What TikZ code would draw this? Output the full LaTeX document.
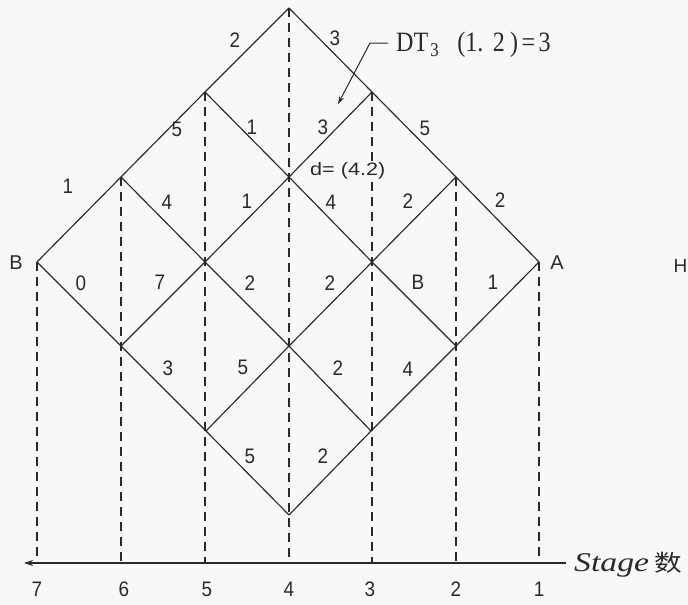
\documentclass[tikz,border=0pt]{standalone}
\usepackage{fontspec}
\setmainfont{Liberation Serif}
\newfontfamily\numfont{Liberation Sans}
\newfontfamily\cjkfont{Noto Sans CJK SC}
\usetikzlibrary{arrows.meta}
\definecolor{ink}{RGB}{42,42,42}
\definecolor{paper}{RGB}{248,248,250}
\newcommand{\wlab}[1]{\scalebox{0.9}[1]{\fontsize{21}{24}\selectfont\numfont #1}}
\tikzset{
  edge/.style={draw=ink, line width=1.15pt},
  guide/.style={draw=ink, line width=1.15pt, dash pattern=on 9pt off 6pt},
  wt/.style={inner sep=0pt, text=ink, font=\numfont},
}
\begin{document}
\begin{tikzpicture}[x=1pt,y=-1pt]
\fill[paper] (0,0) rectangle (688,605);
\useasboundingbox (0,0) rectangle (688,605);
% grid nodes: stage s, level l
\coordinate (s4l0) at (289,8);
\coordinate (s5l1) at (205,92);
\coordinate (s3l1) at (372,92);
\coordinate (s6l2) at (121,177);
\coordinate (s4l2) at (289,177);
\coordinate (s2l2) at (456,177);
\coordinate (s7l3) at (37,262);
\coordinate (s5l3) at (205,262);
\coordinate (s3l3) at (372,262);
\coordinate (s1l3) at (539,262);
\coordinate (s6l4) at (121,346);
\coordinate (s4l4) at (289,346);
\coordinate (s2l4) at (456,346);
\coordinate (s5l5) at (206,431);
\coordinate (s3l5) at (371,431);
\coordinate (s4l6) at (289,515);
% axis
\coordinate (axR) at (566,563);
\coordinate (axL) at (24,563);
% dashed guides
\foreach \n in {s7l3,s6l2,s5l1,s4l0,s3l1,s2l2,s1l3}
  \draw[guide] (\n) -- (\n |- axL);
\draw[edge, -{Stealth[length=9pt,width=6pt]}] (axR) -- (axL);
% d label (masks the dash beneath it)
\node[wt, anchor=west, fill=paper, inner sep=1pt] (dlab) at (309,171) {\scalebox{1.2}[1]{\fontsize{18}{21}\selectfont d= (4.2)}};
% diagonals (down-left)
\draw[edge] (s4l0) -- (s5l1) -- (s6l2) -- (s7l3);
\draw[edge] (s3l1) -- (s4l2) -- (s5l3) -- (s6l4);
\draw[edge] (s2l2) -- (s3l3) -- (s4l4) -- (s5l5);
\draw[edge] (s1l3) -- (s2l4) -- (s3l5) -- (s4l6);
% diagonals (down-right)
\draw[edge] (s4l0) -- (s3l1) -- (s2l2) -- (s1l3);
\draw[edge] (s5l1) -- (s4l2) -- (s3l3) -- (s2l4);
\draw[edge] (s6l2) -- (s5l3) -- (s4l4) -- (s3l5);
\draw[edge] (s7l3) -- (s6l4) -- (s5l5) -- (s4l6);
% end labels
\node[wt, font=\numfont\fontsize{20}{23}\selectfont] (labB) at (16,263) {B};
\node[wt, font=\numfont\fontsize{20}{23}\selectfont] (labA) at (557,263) {A};
\node[wt, font=\numfont\fontsize{19}{22}\selectfont, anchor=east] (labH) at (687.5,266) {H};
% weights
\node[wt] (w1) at (235,40) {\wlab{2}};
\node[wt] (w2) at (335,38) {\wlab{3}};
\node[wt] (w3) at (177,129) {\wlab{5}};
\node[wt] (w4) at (252,127) {\wlab{1}};
\node[wt] (w5) at (323,127) {\wlab{3}};
\node[wt] (w6) at (425,128) {\wlab{5}};
\node[wt] (w7) at (68,186) {\wlab{1}};
\node[wt] (w8) at (167,202) {\wlab{4}};
\node[wt] (w9) at (247,201) {\wlab{1}};
\node[wt] (w10) at (331,202) {\wlab{4}};
\node[wt] (w11) at (408,201) {\wlab{2}};
\node[wt] (w12) at (500,200) {\wlab{2}};
\node[wt] (w13) at (81,283) {\wlab{0}};
\node[wt] (w14) at (160,282) {\wlab{7}};
\node[wt] (w15) at (250,283) {\wlab{2}};
\node[wt] (w16) at (330,283) {\wlab{2}};
\node[wt] (w17) at (418,282) {\wlab{B}};
\node[wt] (w18) at (493,282) {\wlab{1}};
\node[wt] (w19) at (168,368) {\wlab{3}};
\node[wt] (w20) at (243,367) {\wlab{5}};
\node[wt] (w21) at (338,368) {\wlab{2}};
\node[wt] (w22) at (408,369) {\wlab{4}};
\node[wt] (w23) at (250,456) {\wlab{5}};
\node[wt] (w24) at (323,456) {\wlab{2}};
% DT annotation
\node[inner sep=0pt, anchor=west, text=ink] (dt) at (396,45)
  {\scalebox{0.86}[1]{\fontsize{28}{32}\selectfont DT\kern2.5pt\textsubscript{3}\kern21pt(1.\kern11pt2\kern6pt)\kern4pt=\kern4pt3}};
\coordinate (stub) at (388,43);
\coordinate (bend) at (370,43);
\coordinate (tip) at (338,104);
\draw[edge, line width=1pt, -{Stealth[length=8pt,width=5pt]}] (stub) -- (bend) -- (tip);
% stage numbers
\foreach \s/\x in {7/37,6/124,5/207,4/289,3/370,2/456,1/539}
  \node[wt] (st\s) at (\x,589) {\wlab{\s}};
% axis label
\node[inner sep=0pt, anchor=west, text=ink] (stg) at (574,565)
  {\scalebox{1.25}[1]{\fontsize{27}{30}\selectfont\itshape Stage}\kern5pt\scalebox{1.2}[1]{\cjkfont\fontsize{23}{26}\selectfont 数}};
\end{tikzpicture}
\end{document}
